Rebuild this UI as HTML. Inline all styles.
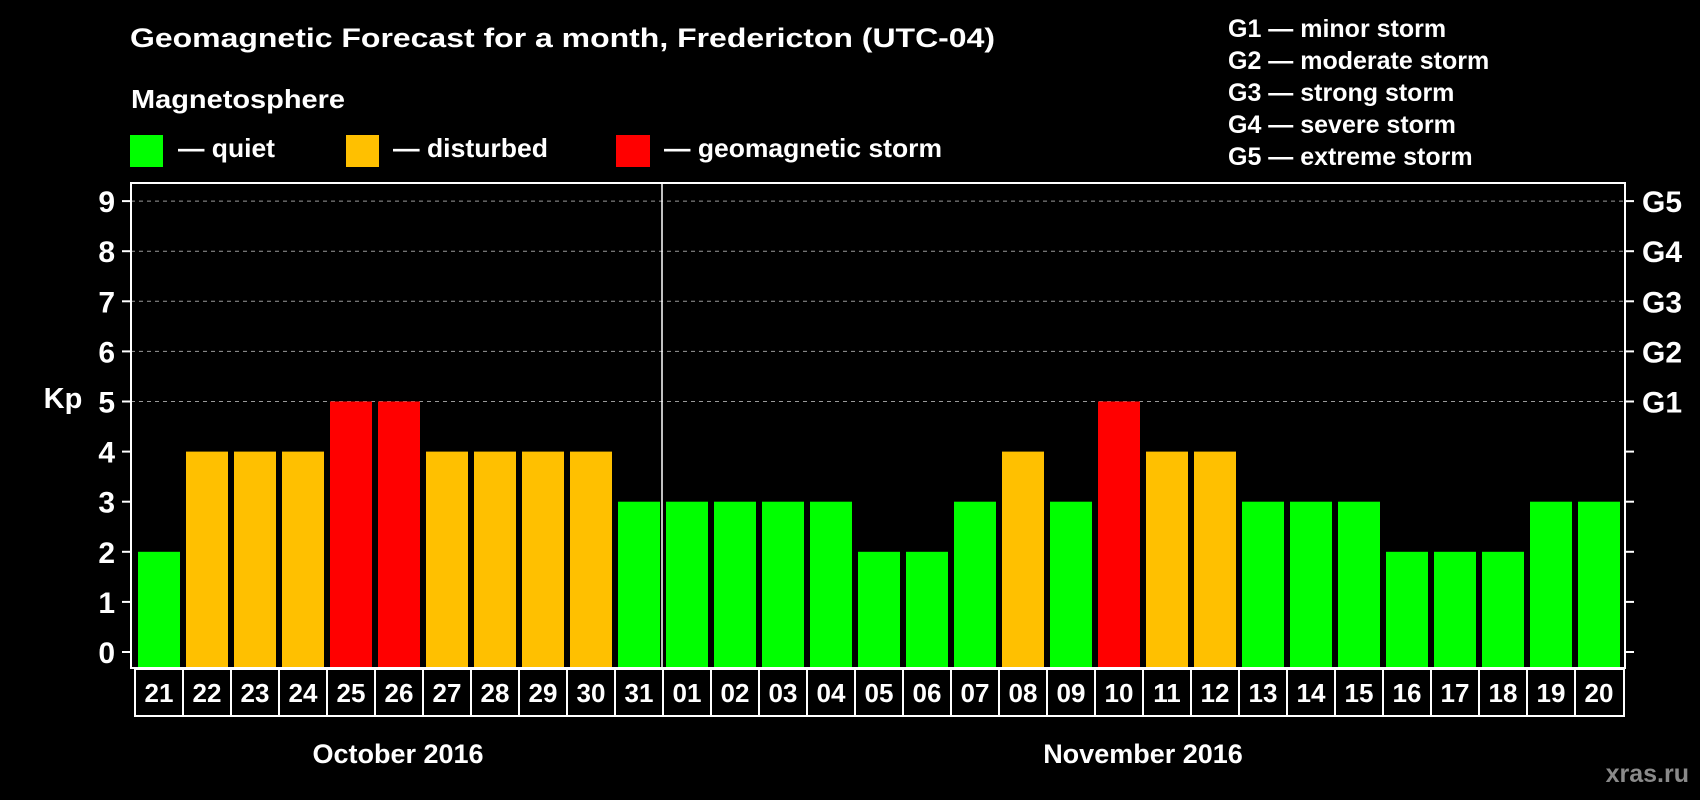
<!DOCTYPE html>
<html><head><meta charset="utf-8"><style>
html,body{margin:0;padding:0;background:#000;}
svg{display:block;font-family:"Liberation Sans",sans-serif;font-weight:bold;}
</style></head><body>
<svg id="chart" width="1700" height="800" viewBox="0 0 1700 800" xmlns="http://www.w3.org/2000/svg">
<rect width="1700" height="800" fill="#000"/>
<text x="130" y="47" fill="#fff" font-size="27" textLength="865" lengthAdjust="spacingAndGlyphs">Geomagnetic Forecast for a month, Fredericton (UTC-04)</text>
<text x="131" y="108" fill="#fff" font-size="26" textLength="214" lengthAdjust="spacingAndGlyphs">Magnetosphere</text>
<g><rect x="130" y="135" width="33" height="32" fill="#00ff00"/><text x="178" y="157" fill="#fff" font-size="26" textLength="97" lengthAdjust="spacingAndGlyphs">— quiet</text></g>
<g><rect x="346" y="135" width="33" height="32" fill="#ffc000"/><text x="393" y="157" fill="#fff" font-size="26" textLength="155" lengthAdjust="spacingAndGlyphs">— disturbed</text></g>
<g><rect x="616" y="135" width="34" height="32" fill="#ff0000"/><text x="664" y="157" fill="#fff" font-size="26" textLength="278" lengthAdjust="spacingAndGlyphs">— geomagnetic storm</text></g>
<g fill="#fff" font-size="25">
<text x="1228" y="37">G1 — minor storm</text>
<text x="1228" y="69">G2 — moderate storm</text>
<text x="1228" y="101">G3 — strong storm</text>
<text x="1228" y="133">G4 — severe storm</text>
<text x="1228" y="165">G5 — extreme storm</text>
</g>
<text x="63" y="408" fill="#fff" font-size="29" text-anchor="middle">Kp</text>
<g id="grid"></g>
<g id="bars"></g>
<g id="axes"></g>
<text x="398" y="763" fill="#fff" font-size="27" text-anchor="middle">October 2016</text>
<text x="1143" y="763" fill="#fff" font-size="27" text-anchor="middle">November 2016</text>
<text x="1689" y="782" fill="#8a8a8a" font-size="25" text-anchor="end">xras.ru</text>
</svg>
<script>
const days = ["21","22","23","24","25","26","27","28","29","30","31","01","02","03","04","05","06","07","08","09","10","11","12","13","14","15","16","17","18","19","20"];
const kpValues = [2,4,4,4,5,5,4,4,4,4,3,3,3,3,3,2,2,3,4,3,5,4,4,3,3,3,2,2,2,3,3];
const yTicks = [0,1,2,3,4,5,6,7,8,9];
const gLabels = ["G1","G2","G3","G4","G5"];
const gLevels = [5,6,7,8,9];
const monthSplitIndex = 11;

const NS = "http://www.w3.org/2000/svg";
const x0 = 134, slot = 48, plotTop = 183, plotBottom = 668, plotLeft = 131, plotRight = 1625;
const y = v => 652 - v * 50.1;
const xs = i => x0 + slot * i;
function mk(tag, attrs, parent) {
  const e = document.createElementNS(NS, tag);
  for (const k in attrs) e.setAttribute(k, attrs[k]);
  parent.appendChild(e);
  return e;
}
function color(v) { return v >= 5 ? "#ff0000" : v >= 4 ? "#ffc000" : "#00ff00"; }

const grid = document.getElementById("grid");
const bars = document.getElementById("bars");
const axes = document.getElementById("axes");

gLevels.forEach((lv, i) => {
  const l = mk("line", {x1: plotLeft, x2: plotRight, y1: y(lv), y2: y(lv), stroke: "#999", "stroke-width": 1, "stroke-dasharray": "4,4"}, grid);
  
  
  const t = mk("text", {x: 1642, y: y(lv) + 11, fill: "#fff", "font-size": 30}, axes);
  t.textContent = gLabels[i];
  
  
});

kpValues.forEach((v, i) => {
  const r = mk("rect", {x: xs(i) + 4, y: y(v), width: 42, height: plotBottom - y(v), fill: color(v)}, bars);
  
  
});

const frame = mk("rect", {x: plotLeft, y: plotTop, width: plotRight - plotLeft, height: plotBottom - plotTop, fill: "none", stroke: "#fff", "stroke-width": 2}, axes);


const div = mk("line", {x1: xs(monthSplitIndex), x2: xs(monthSplitIndex), y1: plotTop, y2: plotBottom, stroke: "#fff", "stroke-width": 1.5}, axes);



yTicks.forEach(v => {
  mk("line", {x1: 122, x2: plotLeft, y1: y(v), y2: y(v), stroke: "#fff", "stroke-width": 2}, axes);
  mk("line", {x1: plotRight, x2: 1634, y1: y(v), y2: y(v), stroke: "#fff", "stroke-width": 2}, axes);
  const t = mk("text", {x: 115, y: y(v) + 11, fill: "#fff", "font-size": 30, "text-anchor": "end"}, axes);
  t.textContent = v;
  
  
});

mk("rect", {x: 135, y: 669, width: 1489, height: 47, fill: "none", stroke: "#fff", "stroke-width": 2}, axes);
days.forEach((d, i) => {
  if (i > 0) mk("line", {x1: xs(i) + 1, x2: xs(i) + 1, y1: 669, y2: 716, stroke: "#fff", "stroke-width": 2}, axes);
  const t = mk("text", {x: xs(i) + 25, y: 702, fill: "#fff", "font-size": 26, "text-anchor": "middle"}, axes);
  t.textContent = d;
  
  
});
</script>
</body></html>
